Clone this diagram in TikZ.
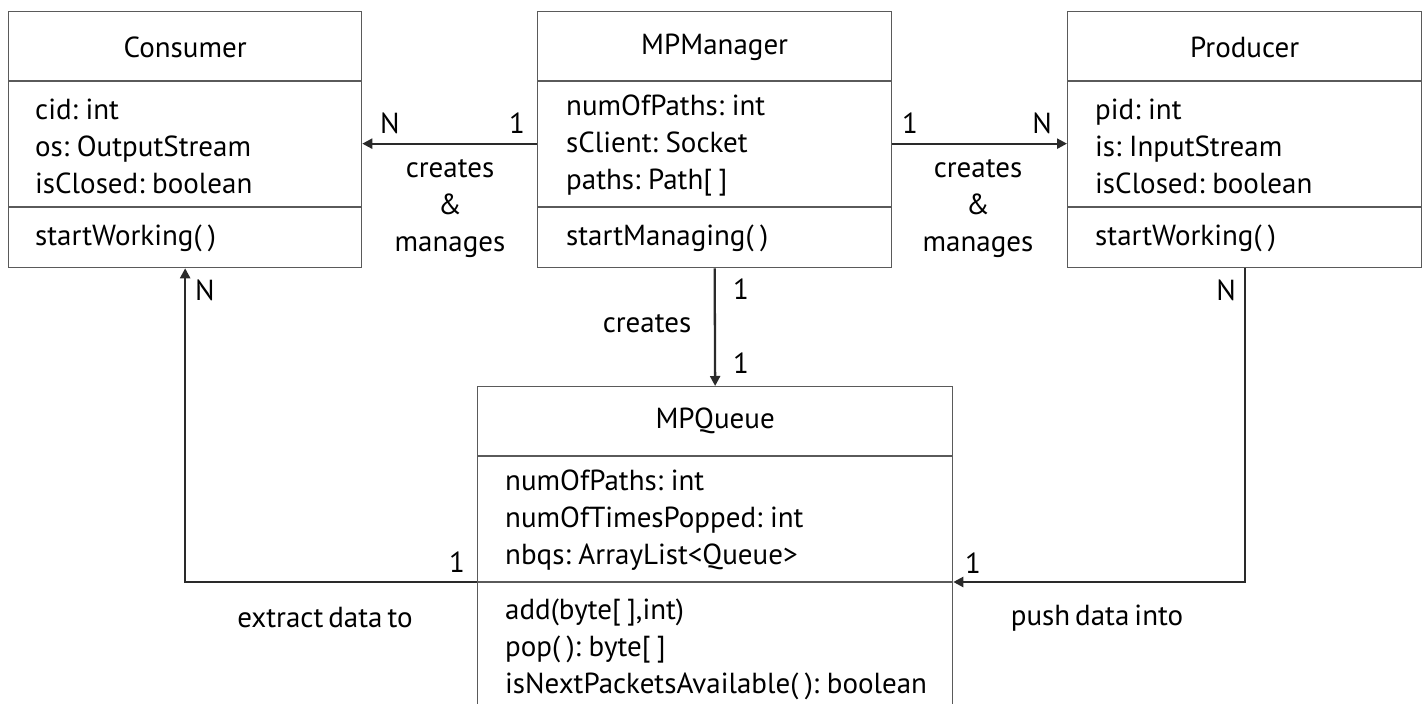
\documentclass[tikz,border=0pt]{standalone}
\usepackage{fontspec}
\setmainfont{PT Sans}[WordSpace=0.65]
\usetikzlibrary{arrows.meta}
\definecolor{boxgray}{HTML}{5A5A5A}
\definecolor{conngray}{HTML}{2A2A2A}
% small gap inside empty brackets, e.g. "( )" and "[ ]"
\newcommand\emptygap{\kern0.22em}
\begin{document}
\begin{tikzpicture}[x=1pt,y=-1pt,
  every node/.style={font=\fontsize{29}{37}\selectfont, text=black, inner sep=0pt},
  classbox/.style={draw=boxgray, line width=1.3pt, anchor=north west},
  divider/.style={draw=boxgray, line width=1.3pt},
  conn/.style={draw=conngray, line width=2.3pt, -{Triangle[length=10pt,width=10pt]}},
  members/.style={align=left, anchor=west},
  multilbl/.style={align=center}]

\useasboundingbox (0,0) rectangle (1427,704);
\clip (0,0) rectangle (1427,704);

% class boxes
\node[classbox, minimum width=353, minimum height=256] (consumer) at (8,11) {};
\node[classbox, minimum width=354, minimum height=256] (mpm) at (537,11) {};
\node[classbox, minimum width=354, minimum height=256] (producer) at (1067,11) {};
\node[classbox, minimum width=475, minimum height=340] (mpq) at (477,386) {};

% compartment dividers
\foreach \b in {consumer, mpm, producer} {
  \draw[divider] (\b.west |- 0,81) -- (\b.east |- 0,81);
  \draw[divider] (\b.west |- 0,207) -- (\b.east |- 0,207);
}
\draw[divider] (mpq.west |- 0,456) -- (mpq.east |- 0,456);
\draw[divider] (mpq.west |- 0,582) -- (mpq.east |- 0,582);

% Consumer
\node (consumer-name) at (consumer.north |- 0,47) {Consumer};
\node[members] (consumer-attrs) at (35,146) {cid: int\\os: OutputStream\\isClosed: boolean};
\node[members] (consumer-ops) at (35,238) {startWorking(\emptygap)};

% MPManager
\node (mpm-name) at (mpm.north |- 0,47) {MPManager};
\node[members] (mpm-attrs) at (566,146) {numOfPaths: int\\sClient: Socket\\paths: Path[\emptygap]};
\node[members] (mpm-ops) at (566,238) {startManaging(\emptygap)};

% Producer
\node (producer-name) at (producer.north |- 0,47) {Producer};
\node[members] (producer-attrs) at (1095,146) {pid: int\\is: InputStream\\isClosed: boolean};
\node[members] (producer-ops) at (1095,238) {startWorking(\emptygap)};

% MPQueue
\node (mpq-name) at (mpq.north |- 0,421) {MPQueue};
\node[members] (mpq-attrs) at (505,520) {numOfPaths: int\\numOfTimesPopped: int\\nbqs: ArrayList<Queue>};
\node[members] (mpq-ops) at (505,649) {add(byte[\emptygap],int)\\pop(\emptygap): byte[\emptygap]\\isNextPacketsAvailable(\emptygap): boolean};

% associations
\coordinate (mpq-l) at (mpq.west |- 0,582);
\coordinate (mpq-r) at (mpq.east |- 0,582);
\draw[conn] ([yshift=-4pt]mpm.west) -- ([yshift=-4pt]consumer.east);
\draw[conn] ([yshift=-4pt]mpm.east) -- ([yshift=-4pt]producer.west);
\draw[conn] (mpm.south) -- (mpq.north);
\draw[conn] (mpq-l) -| (consumer.south);
\draw[conn] (producer.south) |- (mpq-r);

% multiplicities and roles
\node (m-cons-n) at (390,123) {N};
\node (m-cons-1) at (517,123) {1};
\node[multilbl] (r-cons) at (450,209) {creates\\\&\\manages};
\node (m-prod-1) at (910,123) {1};
\node (m-prod-n) at (1042,123) {N};
\node[multilbl] (r-prod) at (978,209) {creates\\\&\\manages};
\node (m-q-top) at (741,289) {1};
\node (m-q-bot) at (741,363) {1};
\node (r-q) at (647,324) {creates};
\node (m-ext-n) at (205,290) {N};
\node (m-ext-1) at (457,562) {1};
\node (r-ext) at (325,618) {extract data to};
\node (m-push-n) at (1226,290) {N};
\node (m-push-1) at (973,563) {1};
\node (r-push) at (1097,618) {push data into};
\end{tikzpicture}
\end{document}
